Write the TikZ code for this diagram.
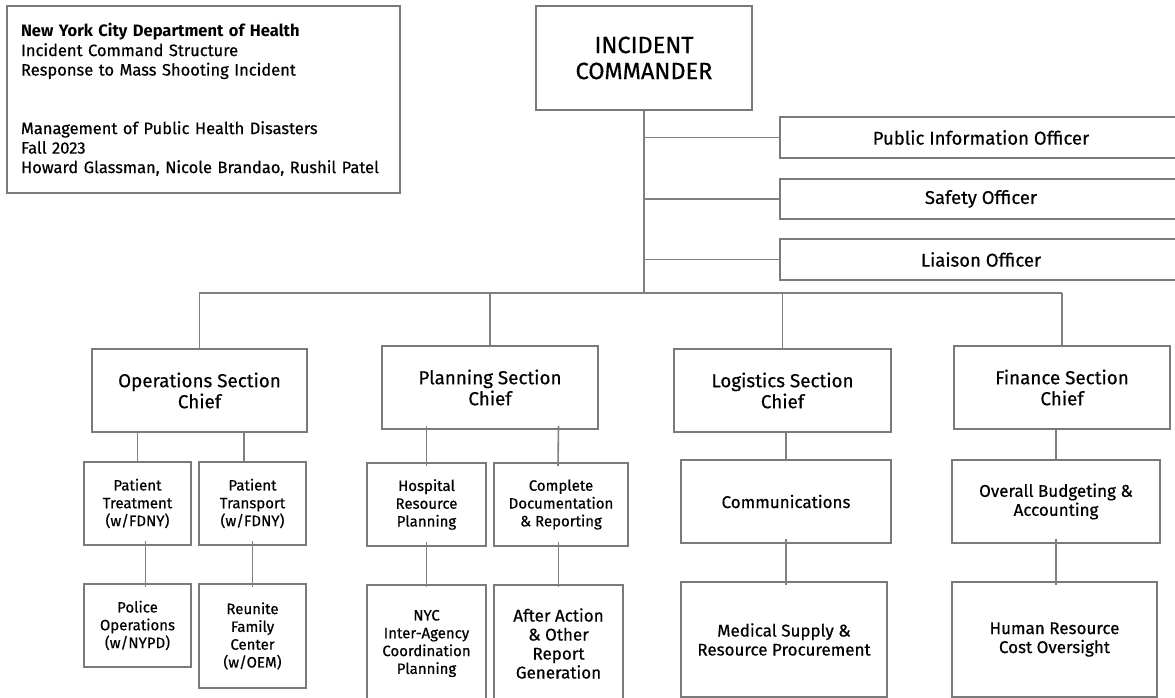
\documentclass[tikz,border=0pt]{standalone}
\usepackage{fontspec}
\setmainfont{Fira Sans}[UprightFeatures={FakeBold=0.5}]
\usetikzlibrary{positioning}
\definecolor{boxgray}{HTML}{7A7A7A}
\definecolor{linegray}{HTML}{808080}
\tikzstyle{box} = [rectangle, draw=boxgray, line width=1.8pt, inner sep=0, align=center, text=black]
\tikzstyle{infobox} = [box, font=\fontsize{16.5}{19.5}\selectfont]
\tikzstyle{topbox} = [box, font=\fontsize{23.5}{26}\selectfont]
\tikzstyle{officer} = [box, font=\fontsize{18.5}{22}\selectfont]
\tikzstyle{chief} = [box, font=\fontsize{18.8}{21}\selectfont]
\tikzstyle{unit} = [box, font=\fontsize{15}{17.8}\selectfont]
\tikzstyle{wideunit} = [box, font=\fontsize{17}{19}\selectfont]
\tikzstyle{link} = [draw=linegray, line width=1.6pt]
\begin{document}
\begin{tikzpicture}[x=1pt,y=-1pt]
\useasboundingbox (0,0) rectangle (1175,698);
\clip (0,0) rectangle (1175,698);

\node[infobox, minimum width=393pt, minimum height=187pt, text width=365pt, align=left] (info) at (203.5,99.5)
 {\textbf{New York City Department of Health}\\Incident Command Structure\\Response to Mass Shooting Incident\\[39pt]
  Management of Public Health Disasters\\Fall 2023\\Howard Glassman, Nicole Brandao, Rushil Patel};

\node[topbox, minimum width=216pt, minimum height=104pt] (ic) at (644,58) {INCIDENT\\COMMANDER};

\node[officer, minimum width=402pt, minimum height=41pt] (pio) at (981,137.5) {Public Information Officer};
\node[officer, minimum width=402pt, minimum height=40pt] (safety) at (981,199) {Safety Officer};
\node[officer, minimum width=402pt, minimum height=41pt] (liaison) at (981,259.5) {Liaison Officer};

\node[chief, minimum width=215pt, minimum height=83pt] (ops) at (199.5,390.5) {Operations Section\\Chief};
\node[chief, minimum width=216pt, minimum height=83pt] (plan) at (490,387.5) {Planning Section\\Chief};
\node[chief, minimum width=217pt, minimum height=83pt] (logi) at (782.5,390.5) {Logistics Section\\Chief};
\node[chief, minimum width=216pt, minimum height=83pt] (fin) at (1062,387.5) {Finance Section\\Chief};

\node[unit, minimum width=107pt, minimum height=83pt] (treat) at (137.5,503.5) {Patient\\Treatment\\(w/FDNY)};
\node[unit, minimum width=107pt, minimum height=83pt] (trans) at (252.5,503.5) {Patient\\Transport\\(w/FDNY)};
\node[unit, minimum width=107pt, minimum height=83pt] (police) at (137.5,625.5) {Police\\Operations\\(w/NYPD)};
\node[unit, minimum width=107pt, minimum height=104pt] (reunite) at (252.5,636) {Reunite\\Family\\Center\\(w/OEM)};

\node[unit, minimum width=119pt, minimum height=83pt] (hosp) at (426.5,504.5) {Hospital\\Resource\\Planning};
\node[unit, minimum width=134pt, minimum height=83pt] (docu) at (561,504.5) {Complete\\Documentation\\\& Reporting};
\node[unit, minimum width=119pt, minimum height=117pt] (nyc) at (426.5,643.5) {NYC\\Inter-Agency\\Coordination\\Planning};
\node[wideunit, minimum width=129pt, minimum height=117pt] (after) at (558.5,643.5) {After Action\\\& Other\\Report\\Generation};

\node[wideunit, minimum width=210pt, minimum height=83pt] (comm) at (786,501.5) {Communications};
\node[wideunit, minimum width=206pt, minimum height=115pt] (med) at (784,639.5) {Medical Supply \&\\Resource Procurement};
\node[wideunit, minimum width=208pt, minimum height=83pt] (budget) at (1056,501.5) {Overall Budgeting \&\\Accounting};
\node[wideunit, minimum width=205pt, minimum height=115pt] (hr) at (1054.5,639.5) {Human Resource\\Cost Oversight};

\coordinate (busL) at (199,293);
\coordinate (busR) at (1062,293);

% command staff
\draw[link] (ic.south) -- (ic.south |- busL);
\foreach \o in {pio,safety,liaison}
  \draw[link] (ic.south |- \o.west) -- (\o.west);

% general staff
\draw[link] (busL) -- (busR);
\foreach \s in {ops,plan,logi,fin}
  \draw[link] (\s.north |- busL) -- (\s.north);

% units
\draw[link] (treat.north) -- (treat.north |- ops.south);
\draw[link] ([xshift=-8.5pt]trans.north) -- ([xshift=-8.5pt]trans.north |- ops.south);
\draw[link] ([xshift=8pt,yshift=5pt]treat.south) -- ([xshift=8pt,yshift=-4pt]police.north);
\draw[link] ([yshift=5pt]trans.south) -- ([yshift=-4pt]reunite.north);
\draw[link] ([yshift=-4pt]hosp.north) -- ([yshift=4pt]hosp.north |- plan.south);
\draw[link] ([xshift=-3pt,yshift=-4pt]docu.north) -- ([yshift=4pt]after.north |- plan.south);
\draw[link] ([yshift=5pt]hosp.south) -- ([yshift=-3pt]nyc.north);
\draw[link] ([yshift=5pt]docu.south -| after.north) -- ([yshift=-3pt]after.north);
\draw[link] (comm.north) -- (comm.north |- logi.south);
\draw[link] ([yshift=5pt]comm.south) -- ([yshift=-4pt]comm.south |- med.north);
\draw[link] (budget.north) -- (budget.north |- fin.south);
\draw[link] ([yshift=5pt]budget.south) -- ([yshift=-4pt]budget.south |- hr.north);
\end{tikzpicture}
\end{document}
